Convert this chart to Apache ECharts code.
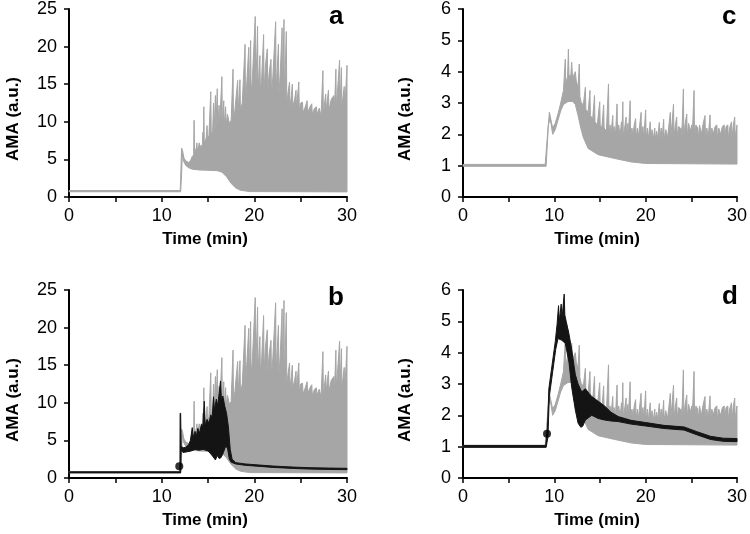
<!DOCTYPE html>
<html><head><meta charset="utf-8">
<script src="https://cdn.jsdelivr.net/npm/echarts@6/dist/echarts.min.js"></script>
<style>html,body{margin:0;padding:0;background:#fff}#c{width:750px;height:534px}</style>
</head><body><div id="c"></div>
<script>
// ---- Data (time in min, AMA in a.u.) ----
// Panels a & b: grey trace, upper (jagged) edge and lower edge
const greyABTop = [[0,0.85],[12.0,0.85],[12.05,2.5],[12.15,6.5],[12.25,6.2],[12.4,5.2],[12.6,4.8],[12.9,4.6],[13.1,4.8],[13.3,5.4],[13.45,5.6],[13.5,10.2],[13.55,5.8],[13.75,6.6],[13.8,7.2],[13.85,6.2],[14.0,6.8],[14.05,7.2],[14.2,6.6],[14.4,7.0],[14.45,8.6],[14.5,7.2],[14.55,12.0],[14.6,7.2],[14.8,7.8],[14.9,9.5],[14.95,7.6],[15.1,8.2],[15.3,14.0],[15.35,8.4],[15.5,8.8],[15.6,12.5],[15.65,8.6],[15.8,13.5],[15.85,8.8],[16.0,14.4],[16.05,9.0],[16.2,12.2],[16.25,9.2],[16.5,16.0],[16.55,9.4],[16.7,12.8],[16.75,9.4],[16.9,12.0],[16.95,9.6],[17.1,11.0],[17.3,9.8],[17.5,10.2],[17.7,17.0],[17.75,10.4],[17.9,11.5],[18.2,15.5],[18.25,11.2],[18.45,15.6],[18.5,11.5],[18.7,12.5],[19.0,20.3],[19.05,12.5],[19.2,15.5],[19.4,19.9],[19.45,13.0],[19.6,20.8],[19.65,13.5],[19.8,16.0],[20.1,24.0],[20.15,14.0],[20.35,22.7],[20.4,14.0],[20.6,18.8],[20.65,14.0],[20.8,16.0],[21.0,21.6],[21.05,14.0],[21.2,17.5],[21.4,19.7],[21.45,14.0],[21.6,16.5],[21.8,18.3],[21.85,13.5],[22.0,16.0],[22.3,23.3],[22.35,14.0],[22.6,20.3],[22.65,13.5],[22.8,16.5],[23.0,22.5],[23.05,13.5],[23.2,23.6],[23.25,13.0],[23.45,22.0],[23.5,12.5],[23.65,14.0],[23.8,15.3],[23.85,12.0],[24.0,13.5],[24.1,15.0],[24.15,12.0],[24.35,13.0],[24.5,14.2],[24.55,11.8],[24.8,15.3],[24.85,11.5],[25.0,12.5],[25.2,12.6],[25.25,11.2],[25.5,12.0],[25.7,12.8],[25.75,11.2],[26.0,12.0],[26.2,12.4],[26.25,11.0],[26.5,11.8],[26.7,12.0],[26.75,11.0],[27.0,11.8],[27.2,10.8],[27.4,16.8],[27.45,11.0],[27.7,13.7],[27.75,11.5],[28.0,14.2],[28.05,11.5],[28.3,13.0],[28.6,13.5],[28.65,11.5],[28.8,17.0],[28.85,12.0],[29.0,14.5],[29.2,18.2],[29.25,12.0],[29.4,17.2],[29.45,12.0],[29.7,14.7],[29.75,12.0],[29.9,15.0],[30.0,17.5]];
const greyABBottom = [[0,0.7],[12.05,0.7],[12.15,3.0],[12.22,5.6],[12.35,4.8],[12.6,4.2],[12.9,3.9],[13.3,3.7],[14.0,3.6],[15.0,3.55],[16.0,3.5],[16.5,3.3],[17.0,2.7],[17.5,1.8],[18.0,1.2],[18.5,0.9],[19.5,0.72],[30.0,0.68]];
// Panel b: black trace
const blackBTop = [[0,0.82],[11.97,0.82],[11.99,8.6],[12.05,8.6],[12.1,4.3],[12.3,4.0],[12.6,4.1],[12.9,4.4],[13.1,5.0],[13.3,6.7],[13.4,5.4],[13.6,6.2],[13.75,5.6],[13.9,6.6],[14.1,6.0],[14.3,7.2],[14.45,6.8],[14.6,10.2],[14.7,7.0],[14.9,7.8],[15.1,7.3],[15.3,8.4],[15.45,8.0],[15.6,10.8],[15.7,9.0],[15.9,10.5],[16.05,9.6],[16.2,11.2],[16.35,12.9],[16.45,10.3],[16.6,10.9],[16.8,9.6],[17.0,8.6],[17.2,6.8],[17.4,3.8],[17.6,2.5],[18.0,2.04],[19.0,1.87],[20.6,1.72],[22.0,1.59],[24.2,1.45],[26.0,1.37],[28.0,1.32],[30.0,1.29]];
const blackBBottom = [[0,0.68],[12.05,0.68],[12.1,3.7],[12.3,3.4],[12.8,3.5],[13.2,3.6],[13.6,3.8],[14.0,3.7],[14.5,3.8],[15.0,3.6],[15.3,3.2],[15.5,2.9],[15.8,2.4],[16.0,3.0],[16.2,2.6],[16.4,2.7],[16.6,3.2],[16.9,4.2],[17.1,4.0],[17.3,2.5],[17.5,2.1],[18.0,1.86],[19.0,1.69],[20.6,1.54],[22.0,1.41],[24.2,1.27],[26.0,1.19],[28.0,1.14],[30.0,1.11]];
const onsetB = [[11.9, 1.55]];
// Panels c & d: grey trace
const greyCDTop = [[0,1.04],[9.0,1.04],[9.2,1.8],[9.46,2.71],[9.6,2.5],[9.82,2.2],[10.1,2.35],[10.4,2.65],[10.7,3.0],[11.0,3.4],[11.2,4.4],[11.25,3.6],[11.45,3.85],[11.54,4.72],[11.6,3.9],[11.8,3.85],[11.9,4.3],[12.0,3.8],[12.3,4.0],[12.4,3.7],[12.6,3.5],[12.73,4.24],[12.8,3.2],[13.0,2.95],[13.2,3.0],[13.4,3.5],[13.45,2.8],[13.7,2.7],[13.9,3.4],[13.95,2.6],[14.2,2.5],[14.4,3.24],[14.45,2.4],[14.7,2.3],[14.97,3.04],[15.02,2.3],[15.2,2.2],[15.4,2.94],[15.45,2.2],[15.7,2.1],[15.93,3.61],[15.98,2.1],[16.1,2.3],[16.2,2.0],[16.4,2.6],[16.45,2.0],[16.55,2.25],[16.7,2.0],[16.87,2.97],[16.92,2.0],[17.05,2.3],[17.2,1.95],[17.35,2.4],[17.4,1.95],[17.5,3.04],[17.55,1.95],[17.7,2.2],[17.86,2.55],[17.9,1.9],[18.05,2.35],[18.1,1.9],[18.3,3.07],[18.35,1.9],[18.5,2.2],[18.6,1.95],[18.75,2.3],[18.9,2.5],[18.95,1.9],[19.1,2.2],[19.2,1.9],[19.35,2.3],[19.5,2.7],[19.55,1.9],[19.7,2.25],[19.8,1.9],[20.0,2.78],[20.05,1.85],[20.2,2.2],[20.3,1.85],[20.5,2.4],[20.55,1.85],[20.7,2.15],[20.85,1.85],[21.0,2.2],[21.05,1.85],[21.2,2.1],[21.3,1.85],[21.5,2.38],[21.55,1.85],[21.7,2.2],[21.8,1.85],[21.97,2.48],[22.02,1.85],[22.2,2.15],[22.4,1.9],[22.55,2.3],[22.7,2.7],[22.75,1.9],[22.9,2.4],[23.05,2.96],[23.1,1.9],[23.25,2.3],[23.4,2.55],[23.45,1.9],[23.6,2.25],[23.8,2.2],[23.85,1.9],[24.0,2.3],[24.13,3.45],[24.18,1.9],[24.3,2.3],[24.5,2.65],[24.55,1.9],[24.7,2.35],[24.9,2.1],[25.05,2.3],[25.1,1.9],[25.3,3.4],[25.35,1.9],[25.5,2.3],[25.7,2.2],[25.75,1.85],[25.9,2.3],[26.1,2.0],[26.3,2.35],[26.5,2.6],[26.55,1.85],[26.7,2.2],[26.85,1.9],[27.05,2.62],[27.1,1.85],[27.25,2.2],[27.4,2.0],[27.6,2.25],[27.8,2.3],[27.85,1.85],[28.0,2.2],[28.2,2.0],[28.4,2.25],[28.6,2.3],[28.65,1.85],[28.8,2.25],[29.0,2.3],[29.05,1.85],[29.2,2.2],[29.4,2.4],[29.45,1.85],[29.6,2.3],[29.75,2.55],[29.8,1.9],[30.0,2.3]];
const greyCDBottom = [[0,0.98],[9.1,0.98],[9.35,2.3],[9.55,2.5],[9.82,2.0],[10.1,2.15],[10.4,2.45],[10.7,2.75],[11.0,2.95],[11.5,3.05],[12.0,3.05],[12.3,2.95],[12.6,2.6],[12.9,2.2],[13.16,1.91],[13.7,1.55],[14.8,1.35],[16.6,1.23],[18.4,1.12],[20.0,1.07],[30.0,1.05]];
// Panel d: black trace
const blackDTop = [[0,1.04],[9.05,1.04],[9.25,1.6],[9.4,2.85],[9.75,3.6],[10.1,4.35],[10.3,4.9],[10.46,5.5],[10.55,5.0],[10.75,5.55],[10.85,5.1],[10.95,5.45],[11.08,5.87],[11.15,5.2],[11.3,5.0],[11.6,4.6],[11.9,4.1],[12.3,3.3],[12.6,3.0],[13.0,2.75],[13.4,2.85],[13.8,2.7],[14.1,2.6],[14.8,2.45],[15.5,2.3],[16.2,2.1],[17.0,1.96],[18.4,1.84],[20.0,1.77],[22.0,1.68],[24.2,1.63],[25.6,1.48],[27.1,1.33],[28.5,1.27],[30.0,1.26]];
const blackDBottom = [[0,0.98],[9.1,0.98],[9.3,1.3],[9.45,2.6],[9.8,3.35],[10.15,4.1],[10.4,4.45],[10.8,4.4],[11.2,4.3],[11.6,3.7],[11.9,2.9],[12.3,2.17],[12.6,1.75],[12.9,1.62],[13.1,1.65],[13.4,1.85],[14.1,2.0],[14.8,1.9],[15.5,1.85],[16.2,1.82],[17.0,1.8],[18.4,1.72],[20.0,1.66],[22.0,1.58],[24.2,1.53],[25.6,1.38],[27.1,1.23],[28.5,1.17],[30.0,1.16]];
const onsetD = [[9.2, 1.41]];
// Axes / labels
const panelLetters = ['a', 'b', 'c', 'd'];
const yMaxAB = 25, yStepAB = 5, yMaxCD = 6, yStepCD = 1;
const xMax = 30, xStep = 10;

const F = '"Liberation Sans", Arial, Helvetica, sans-serif';
const GREY = '#a6a6a6', BLACK = '#141414';

function band(idx, top, bottom, color, z) {
  const poly = top.concat(bottom.slice().reverse());
  return {
    type: 'custom', xAxisIndex: idx, yAxisIndex: idx, z: z, silent: true,
    data: poly, encode: { x: 0, y: 1 },
    renderItem: function (params, api) {
      if (params.dataIndex !== 0) return null;
      const pts = poly.map(function (p) { return api.coord(p); });
      return { type: 'polygon', shape: { points: pts },
        style: { fill: color, stroke: color, lineWidth: 1 } };
    }
  };
}
function dot(idx, d) {
  return { type: 'scatter', xAxisIndex: idx, yAxisIndex: idx, z: 5, silent: true,
    data: d, symbol: 'circle', symbolSize: 8, itemStyle: { color: '#000' } };
}
function xAx(i) {
  return { type: 'value', gridIndex: i, min: 0, max: xMax, interval: xStep,
    axisLine: { show: true, lineStyle: { color: '#000', width: 2 } },
    axisTick: { show: true, length: 5, lineStyle: { color: '#000', width: 1.5 } },
    minorTick: { show: true, splitNumber: 2, length: 5, lineStyle: { color: '#000', width: 1.5 } },
    splitLine: { show: false }, minorSplitLine: { show: false },
    axisLabel: { color: '#000', fontSize: 18, margin: 10, fontFamily: F },
    name: 'Time (min)', nameLocation: 'middle', nameGap: 34,
    nameTextStyle: { color: '#000', fontSize: 17, fontWeight: 'bold', fontFamily: F, padding: [0, 6, 0, 0] }
  };
}
function yAx(i, max, step, gap) {
  return { type: 'value', gridIndex: i, min: 0, max: max, interval: step,
    axisLine: { show: true, lineStyle: { color: '#000', width: 2 } },
    axisTick: { show: true, length: 5, lineStyle: { color: '#000', width: 1.5 } },
    splitLine: { show: false },
    axisLabel: { color: '#000', fontSize: 18, margin: 12, fontFamily: F },
    name: 'AMA (a.u.)', nameLocation: 'middle', nameGap: gap,
    nameTextStyle: { color: '#000', fontSize: 17, fontWeight: 'bold', fontFamily: F, padding: [0, 32, 0, 0] }
  };
}
const chart = echarts.init(document.getElementById('c'), null, { renderer: 'canvas' });
chart.setOption({
  animation: false,
  backgroundColor: '#fff',
  title: [
    { text: panelLetters[0], left: 329, top: 4, padding: 0, textStyle: { fontSize: 26, fontWeight: 'bold', color: '#000', fontFamily: F } },
    { text: panelLetters[1], left: 328, top: 285, padding: 0, textStyle: { fontSize: 26, fontWeight: 'bold', color: '#000', fontFamily: F } },
    { text: panelLetters[2], left: 722, top: 4, padding: 0, textStyle: { fontSize: 26, fontWeight: 'bold', color: '#000', fontFamily: F } },
    { text: panelLetters[3], left: 722, top: 284, padding: 0, textStyle: { fontSize: 26, fontWeight: 'bold', color: '#000', fontFamily: F } }
  ],
  grid: [
    { left: 69, top: 8, width: 278, height: 189 },
    { left: 69, top: 290, width: 278, height: 188 },
    { left: 463, top: 8, width: 278, height: 189 },
    { left: 463, top: 290, width: 278, height: 188 }
  ],
  xAxis: [xAx(0), xAx(1), xAx(2), xAx(3)],
  yAxis: [yAx(0, yMaxAB, yStepAB, 47), yAx(1, yMaxAB, yStepAB, 47), yAx(2, yMaxCD, yStepCD, 49), yAx(3, yMaxCD, yStepCD, 49)],
  series: [
    band(0, greyABTop, greyABBottom, GREY, 2),
    band(1, greyABTop, greyABBottom, GREY, 2),
    band(1, blackBTop, blackBBottom, BLACK, 3),
    dot(1, onsetB),
    band(2, greyCDTop, greyCDBottom, GREY, 2),
    band(3, greyCDTop, greyCDBottom, GREY, 2),
    band(3, blackDTop, blackDBottom, BLACK, 3),
    dot(3, onsetD)
  ]
});
</script></body></html>
